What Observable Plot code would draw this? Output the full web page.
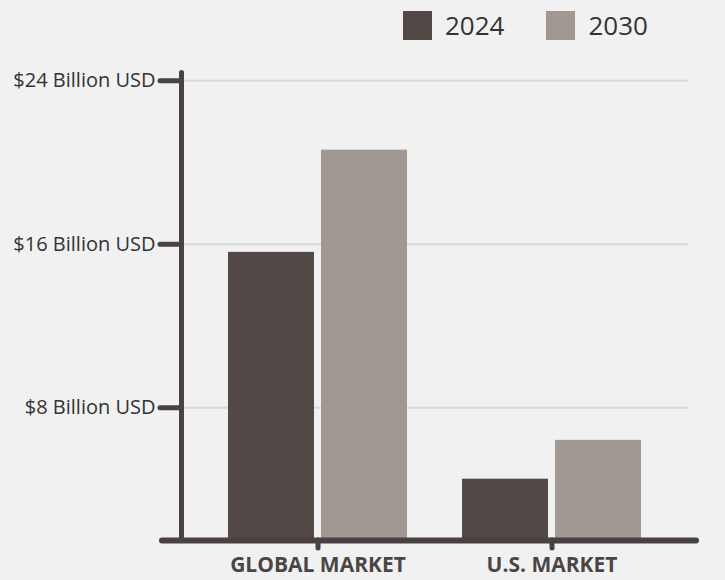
<!DOCTYPE html>
<html>
<head>
<meta charset="utf-8">
<script src="https://cdn.jsdelivr.net/npm/d3@7"></script>
<script src="https://cdn.jsdelivr.net/npm/@observablehq/plot@0.6"></script>
<style>
  html, body { margin: 0; padding: 0; background: #f1f1f1; }
  #wrap { position: relative; width: 725px; height: 580px; font-family: "Open Sans", sans-serif; }
  #legend { position: absolute; top: 11px; left: 403px; display: flex; align-items: center; color: #333; font-size: 26px; line-height: 29px; }
  #legend .sw { width: 29px; height: 29px; margin-right: 13px; }
  #legend .item { display: flex; align-items: center; margin-right: 42px; }
  #chart { position: absolute; top: 0; left: 0; }
  #chart g[aria-label="y-axis tick"], #chart g[aria-label="x-axis tick"] { stroke: #4a4242; stroke-width: 5px; stroke-linecap: round; }
  #chart g[aria-label="y-axis tick label"] { fill: #333; font-size: 20px; }
  #chart g[aria-label="x-axis tick label"] { fill: #4a4646; font-size: 21px; font-weight: bold; }
</style>
</head>
<body>
<div id="wrap">
  <div id="chart"></div>
  <div id="legend"></div>
</div>
<script>
const markets = ["GLOBAL MARKET", "U.S. MARKET"];
const years = ["2024", "2030"];
const values2024 = [15.6, 4.5];
const values2030 = [20.6, 6.4];
const yTicks = [8, 16, 24];
const yTickLabels = ["$8 Billion USD", "$16 Billion USD", "$24 Billion USD"];
const colors = ["#524946", "#a19894"];

const rows = markets.flatMap((m, i) => [
  {market: m, year: years[0], value: values2024[i]},
  {market: m, year: years[1], value: values2030[i]}
]);

const axisColor = "#4a4242";

const chart = Plot.plot({
  width: 725,
  height: 580,
  marginLeft: 181,
  marginRight: 37,
  marginTop: 72,
  marginBottom: 40,
  style: {background: "transparent", fontFamily: "'Open Sans', sans-serif", fontSize: "19px", color: "#333", overflow: "visible"},
  x: {domain: markets, paddingInner: 0.234, paddingOuter: 0.196, label: null},
  y: {domain: [1.5, 24.4], clamp: true, label: null},
  color: {domain: years, range: colors},
  marks: [
    Plot.ruleY(yTicks, {stroke: "#d8d8d8", strokeWidth: 2}),
    Plot.barY(rows.filter(d => d.year === years[0]), {x: "market", y1: 0, y2: "value", fill: "year", insetRight: 93}),
    Plot.barY(rows.filter(d => d.year === years[1]), {x: "market", y1: 0, y2: "value", fill: "year", insetLeft: 93}),
    Plot.ruleY([0], {stroke: axisColor, strokeWidth: 6, strokeLinecap: "round", insetLeft: -19, insetRight: -8}),
    Plot.frame({anchor: "left", stroke: axisColor, strokeWidth: 5, strokeLinecap: "round"}),
    Plot.axisY({ticks: yTicks, tickFormat: d => yTickLabels[yTicks.indexOf(d)], tickSize: 21, tickPadding: 5, label: null}),
    Plot.axisX({tickSize: 8, tickPadding: 9, label: null})
  ]
});
document.getElementById("chart").appendChild(chart);

const legend = d3.select("#legend");
years.forEach((y, i) => {
  const item = legend.append("div").attr("class", "item");
  item.append("div").attr("class", "sw").style("background", colors[i]);
  item.append("span").text(y);
});
</script>
</body>
</html>
